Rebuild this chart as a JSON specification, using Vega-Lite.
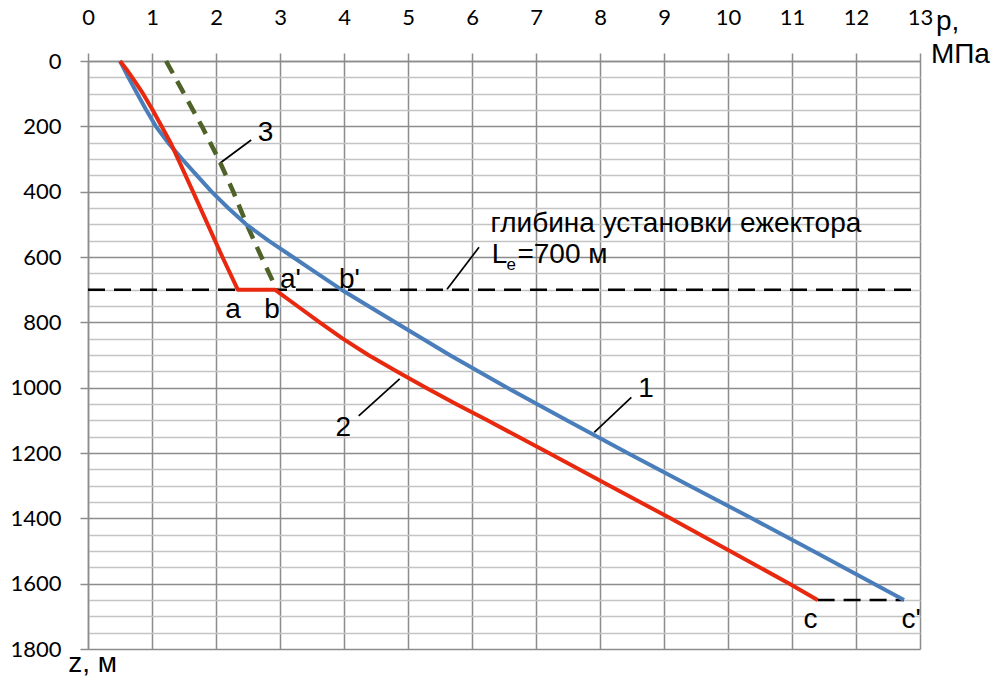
{
  "$schema": "https://vega.github.io/schema/vega-lite/v6.json",
  "width": 832,
  "height": 588,
  "autosize": {"type": "none"},
  "padding": {"left": 88, "top": 61, "right": 75, "bottom": 31},
  "background": "white",
  "config": {"view": {"stroke": null}},
  "datasets": {
    "curve1": [
      {"i": 1, "p": 0.5, "z": 0}, {"i": 2, "p": 0.63, "z": 50}, {"i": 3, "p": 0.77, "z": 100},
      {"i": 4, "p": 0.91, "z": 150}, {"i": 5, "p": 1.06, "z": 200}, {"i": 6, "p": 1.25, "z": 250},
      {"i": 7, "p": 1.47, "z": 300}, {"i": 8, "p": 1.7, "z": 350}, {"i": 9, "p": 1.93, "z": 400},
      {"i": 10, "p": 2.19, "z": 450}, {"i": 11, "p": 2.47, "z": 500}, {"i": 12, "p": 2.82, "z": 550},
      {"i": 13, "p": 3.2, "z": 600}, {"i": 14, "p": 3.58, "z": 650}, {"i": 15, "p": 3.96, "z": 700},
      {"i": 16, "p": 4.8, "z": 800}, {"i": 17, "p": 5.65, "z": 900}, {"i": 18, "p": 6.55, "z": 1000},
      {"i": 19, "p": 7.48, "z": 1100}, {"i": 20, "p": 8.43, "z": 1200}, {"i": 21, "p": 9.4, "z": 1300},
      {"i": 22, "p": 10.37, "z": 1400}, {"i": 23, "p": 11.33, "z": 1500}, {"i": 24, "p": 12.75, "z": 1650}
    ],
    "curve2": [
      {"i": 1, "p": 0.5, "z": 0}, {"i": 2, "p": 0.6, "z": 25}, {"i": 3, "p": 0.69, "z": 50},
      {"i": 4, "p": 0.86, "z": 100}, {"i": 5, "p": 1.01, "z": 150}, {"i": 6, "p": 1.15, "z": 200},
      {"i": 7, "p": 1.29, "z": 250}, {"i": 8, "p": 1.64, "z": 400}, {"i": 9, "p": 2.1, "z": 600},
      {"i": 10, "p": 2.34, "z": 700}, {"i": 11, "p": 2.92, "z": 700}, {"i": 12, "p": 3.27, "z": 750},
      {"i": 13, "p": 3.62, "z": 800}, {"i": 14, "p": 3.98, "z": 850}, {"i": 15, "p": 4.38, "z": 900},
      {"i": 16, "p": 4.82, "z": 950}, {"i": 17, "p": 5.28, "z": 1000}, {"i": 18, "p": 5.75, "z": 1050},
      {"i": 19, "p": 6.24, "z": 1100}, {"i": 20, "p": 7.2, "z": 1200}, {"i": 21, "p": 8.15, "z": 1300},
      {"i": 22, "p": 9.1, "z": 1400}, {"i": 23, "p": 10.03, "z": 1500}, {"i": 24, "p": 10.96, "z": 1600},
      {"i": 25, "p": 11.4, "z": 1650}
    ],
    "curve3": [
      {"i": 1, "p": 1.22, "z": 0}, {"i": 2, "p": 1.5, "z": 100}, {"i": 3, "p": 1.78, "z": 200},
      {"i": 4, "p": 2.04, "z": 300}, {"i": 5, "p": 2.27, "z": 400}, {"i": 6, "p": 2.48, "z": 500},
      {"i": 7, "p": 2.71, "z": 600}, {"i": 8, "p": 2.95, "z": 700}
    ],
    "dashed": [
      {"p": 0, "z": 700, "p2": 13, "z2": 700},
      {"p": 11.4, "z": 1650, "p2": 12.75, "z2": 1650}
    ],
    "leaders": [
      {"p": 2.06, "z": 313, "p2": 2.55, "z2": 242},
      {"p": 4.23, "z": 1086, "p2": 4.87, "z2": 973},
      {"p": 7.91, "z": 1137, "p2": 8.49, "z2": 1030},
      {"p": 5.61, "z": 699, "p2": 6.11, "z2": 570}
    ],
    "labelsCenter": [
      {"p": 2.775, "z": 244, "t": "3"},
      {"p": 3.99, "z": 1147, "t": "2"},
      {"p": 8.72, "z": 1029, "t": "1"},
      {"p": 2.265, "z": 787, "t": "a"},
      {"p": 2.877, "z": 787, "t": "b"},
      {"p": 11.29, "z": 1736, "t": "c"}
    ],
    "labelsLeft": [
      {"p": 3.0, "z": 695, "t": "a'"},
      {"p": 3.92, "z": 695, "t": "b'"},
      {"p": 12.71, "z": 1736, "t": "c'"},
      {"p": 6.29, "z": 522, "t": "глибина установки ежектора"},
      {"p": 6.31, "z": 619, "t": "L"},
      {"p": 6.71, "z": 619, "t": "=700 м"},
      {"p": 13.25, "z": -95, "t": "p,"},
      {"p": 13.17, "z": 5, "t": "МПа"},
      {"p": -0.31, "z": 1869, "t": "z, м"}
    ],
    "subscript": [
      {"p": 6.54, "z": 639, "t": "e"}
    ]
  },
  "encoding": {
    "x": {
      "field": "p", "type": "quantitative",
      "scale": {"domain": [0, 13], "nice": false, "zero": false},
      "axis": {
        "orient": "top", "title": null,
        "values": [0, 0.5, 1, 1.5, 2, 2.5, 3, 3.5, 4, 4.5, 5, 5.5, 6, 6.5, 7, 7.5, 8, 8.5, 9, 9.5, 10, 10.5, 11, 11.5, 12, 12.5, 13],
        "grid": true,
        "gridColor": {"condition": {"test": "datum.value % 1 === 0", "value": "#8c8c8c"}, "value": "#c4c4c4"},
        "gridWidth": 1.5,
        "domainColor": "#8c8c8c", "domainWidth": 1.5,
        "tickSize": 8, "tickWidth": 1.5,
        "tickColor": {"condition": {"test": "datum.value % 1 === 0", "value": "#8c8c8c"}, "value": "rgba(0,0,0,0)"},
        "format": "d",
        "labelExpr": "datum.value % 1 === 0 ? datum.label : ''",
        "labelFont": "Lato", "labelFontSize": 22, "labelColor": "black",
        "labelPadding": 24, "labelOverlap": false, "labelFlush": false, "labelBound": false
      }
    },
    "y": {
      "field": "z", "type": "quantitative",
      "scale": {"domain": [0, 1800], "nice": false, "zero": false, "reverse": true},
      "axis": {
        "title": null,
        "values": [0, 50, 100, 150, 200, 250, 300, 350, 400, 450, 500, 550, 600, 650, 700, 750, 800, 850, 900, 950, 1000, 1050, 1100, 1150, 1200, 1250, 1300, 1350, 1400, 1450, 1500, 1550, 1600, 1650, 1700, 1750, 1800],
        "grid": true,
        "gridColor": {"condition": {"test": "datum.value % 200 === 0", "value": "#8c8c8c"}, "value": "#c4c4c4"},
        "gridWidth": 1.5,
        "domainColor": "#8c8c8c", "domainWidth": 1.5,
        "tickSize": 8, "tickWidth": 1.5,
        "tickColor": {"condition": {"test": "datum.value % 200 === 0", "value": "#8c8c8c"}, "value": "rgba(0,0,0,0)"},
        "format": "d",
        "labelExpr": "datum.value % 200 === 0 ? datum.label : ''",
        "labelFont": "Lato", "labelFontSize": 22, "labelColor": "black",
        "labelPadding": 19, "labelOverlap": false, "labelFlush": false, "labelBound": false
      }
    }
  },
  "layer": [
    {
      "data": {"name": "dashed"},
      "mark": {"type": "rule", "color": "black", "strokeWidth": 2.5, "strokeDash": [17, 9]},
      "encoding": {"x2": {"field": "p2"}, "y2": {"field": "z2"}}
    },
    {
      "data": {"name": "leaders"},
      "mark": {"type": "rule", "color": "black", "strokeWidth": 1.7},
      "encoding": {"x2": {"field": "p2"}, "y2": {"field": "z2"}}
    },
    {
      "data": {"name": "curve3"},
      "mark": {"type": "line", "color": "#4f6228", "strokeWidth": 4.5, "strokeDash": [14, 9]},
      "encoding": {"order": {"field": "i", "type": "quantitative"}}
    },
    {
      "data": {"name": "curve1"},
      "mark": {"type": "line", "color": "#4a7ebb", "strokeWidth": 4, "strokeJoin": "round"},
      "encoding": {"order": {"field": "i", "type": "quantitative"}}
    },
    {
      "data": {"name": "curve2"},
      "mark": {"type": "line", "color": "#e8290f", "strokeWidth": 4, "strokeJoin": "round"},
      "encoding": {"order": {"field": "i", "type": "quantitative"}}
    },
    {
      "data": {"name": "labelsCenter"},
      "mark": {"type": "text", "font": "Liberation Sans", "fontSize": 28, "align": "center", "baseline": "alphabetic", "color": "black"},
      "encoding": {"text": {"field": "t"}}
    },
    {
      "data": {"name": "labelsLeft"},
      "mark": {"type": "text", "font": "Liberation Sans", "fontSize": 28, "align": "left", "baseline": "alphabetic", "color": "black"},
      "encoding": {"text": {"field": "t"}}
    },
    {
      "data": {"name": "subscript"},
      "mark": {"type": "text", "font": "Liberation Sans", "fontSize": 17, "align": "left", "baseline": "alphabetic", "color": "black"},
      "encoding": {"text": {"field": "t"}}
    }
  ]
}
